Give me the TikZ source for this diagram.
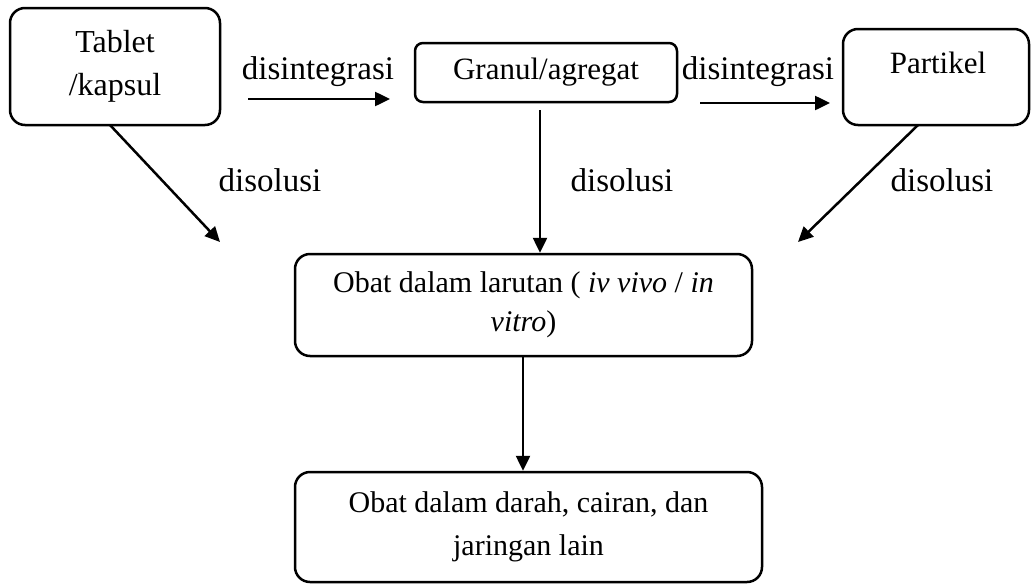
\documentclass[tikz,border=0pt]{standalone}
\usepackage{fontspec}
\setmainfont{Liberation Serif}
\usetikzlibrary{arrows.meta}
\begin{document}
\begin{tikzpicture}[x=1pt,y=-1pt,
  box/.style={draw,line width=2.5pt,rounded corners=15pt,inner sep=0pt,align=center},
  lbl/.style={inner sep=0pt,font=\fontsize{33}{40}\selectfont},
  arr/.style={line width=2.5pt,-{Triangle[length=15pt,width=14pt]}},
  font=\fontsize{31}{38}\selectfont]
\useasboundingbox (0,0) rectangle (1031,584);
% boxes
\node[box,minimum width=210pt,minimum height=117pt,font=\fontsize{32}{43}\selectfont] (tab) at (115,66.5) {Tablet\\/kapsul};
\node[box,rounded corners=8pt,minimum width=262pt,minimum height=59pt] (gra) at (546,72.5) {Granul/agregat};
\node[box,minimum width=186pt,minimum height=96pt] (par) at (936,77) {};
\node[lbl,font=\fontsize{31}{38}\selectfont] (part) at (938,63) {Partikel};
\node[box,minimum width=457pt,minimum height=102pt,font=\fontsize{30}{39}\selectfont] (obl) at (523.5,305) {Obat dalam larutan ( \textit{iv vivo} / \textit{in}\\\textit{vitro})};
\node[box,minimum width=467pt,minimum height=110pt,font=\fontsize{30}{43}\selectfont] (dar) at (528.5,527) {Obat dalam darah, cairan, dan\\jaringan lain};
% arrow end points
\coordinate (a1s) at (248,99);
\coordinate (a1e) at (390,99);
\coordinate (a2s) at (700,103);
\coordinate (a2e) at (830,103);
\coordinate (d1s) at (110,125);
\coordinate (d1e) at (220,242);
\coordinate (d2s) at (540,110);
\coordinate (d3s) at (918,125);
\coordinate (d3e) at (798,242);
\coordinate (d4s) at (523,356);
% connectors
\draw[arr] (a1s) -- (a1e);
\draw[arr] (a2s) -- (a2e);
\draw[arr] (d1s) -- (d1e);
\draw[arr] (d2s) -- (d2s |- obl.north);
\draw[arr] (d3s) -- (d3e);
\draw[arr] (d4s) -- (d4s |- dar.north);
% labels
\node[lbl] (l1) at (318,72) {disintegrasi};
\node[lbl] (l2) at (758,72) {disintegrasi};
\node[lbl] (l3) at (270,180) {disolusi};
\node[lbl] (l4) at (622,180) {disolusi};
\node[lbl] (l5) at (942,180) {disolusi};
\end{tikzpicture}
\end{document}
